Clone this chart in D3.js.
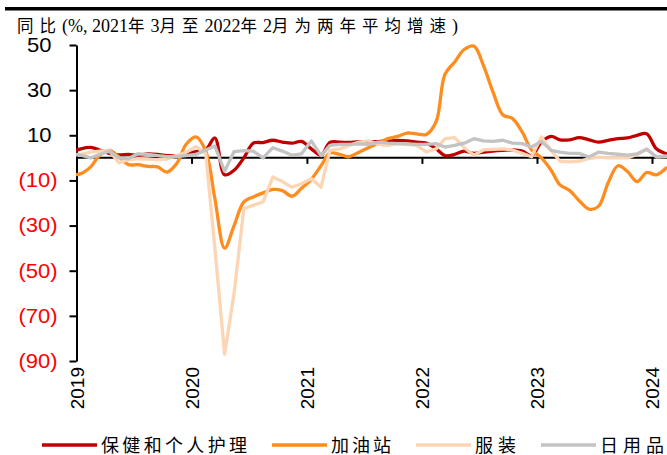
<!DOCTYPE html>
<meta charset="utf-8">
<style>
body { margin: 0; background: #fff; }
svg { display: block; }
.line { fill: none; stroke-width: 3.3; stroke-linejoin: round; stroke-linecap: round; }
</style>
<svg width="667" height="455"></svg>
<script src="https://d3js.org/d3.v7.min.js"></script>
<script>

// monthly points, Dec 2018 .. Feb 2024
var firstMonth = new Date(2018, 11, 1),
    endMonth = new Date(2024, 2, 1);

var seriesNames = ["保健和个人护理", "加油站", "服装", "日用品"];
var seriesColors = ["#C00000", "#FF8C1E", "#FCD5B4", "#C3C3C3"];

var health = [2.5, 4, 4.6, 3.5, 2, 1.3, 1.5, 1.2, 1.7, 1.5, 1, 0.8, 1.5,
  2.8, 3.5, 8.8, -7.5, -5.5, 0, 6.5, 6.8, 7.8, 7, 6.5, 7.3,
  4, 1.2, 6.8, 7, 6.8, 7.2, 7, 7.2, 7.5, 7.7, 7.5, 7,
  6.5, 4, 1, 1.5, 3, 2, 2.5, 3, 3.3, 3.5, 3, 1,
  7, 9.5, 8, 8, 9, 8, 7, 7.8, 8.5, 8.8, 10, 10.7,
  4, 1.8];

var gas = [-7.5, -7, -4, 1, 3.3, 0.5, -3, -3, -3.8, -4, -6.3, -2.5, 6,
  9.3, 3, -18, -40, -30, -19.5, -17.3, -15.5, -14, -14.5, -17, -13.5,
  -9.5, -3.5, 2.2, 1.5, 0.5, 2.5, 4.5, 6.5, 8.5, 9.5, 11, 10.6,
  10.4, 16, 37, 42.5, 48, 49.5, 41, 29, 19, 17.5, 11.5, 3.5,
  0, -5.5, -12, -14.5, -19, -22.7, -21.5, -11, -3.5, -6, -10.5, -6.5,
  -7.5, -4.5];

var clothing = [1.5, 1.5, 2.5, 3, 3.3, -2.2, -0.8, -0.3, -0.5, -0.8, -0.5, 1, 2.5,
  5, 2, -40, -87, -60, -22.5, -21, -19.5, -8.5, -10.5, -13, -11.5,
  -9.2, -13, 3.3, 4, 5.5, 7, 7.5, 6, 5.5, 6.3, 6, 5.5,
  2.6, 4, 8.5, 9, 4.5, 1.2, 3.5, 3.8, 4, 3.5, 2, 0.5,
  9.3, 3.3, -1.5, -1.8, -1.5, -0.3, 0.3, 0, 0, 0, 1.5, 4,
  0.5, 0.6];

var daily = [1.5, 1.2, 0, 1.5, 3, 0, -0.3, 1.8, 1.5, 1, 0.5, 0.5, 1,
  1.5, 3.5, 5.3, -6, 2.8, 3.2, 3, 0, 4.5, 3, 1.2, 1.8,
  7.5, 1, 5.5, 6, 6, 6.2, 6, 7, 6.5, 6.3, 6.2, 6,
  6, 6.3, 4.8, 5.5, 6.5, 8.5, 7.5, 7.3, 7.8, 6.5, 6.3, 4.8,
  7.3, 3.3, 2.5, 2, 2, 0.4, 2.5, 2, 1.6, 1.2, 1.8, 3.8,
  0.4, 0.8];

var yTicks = [50, 30, 10, -10, -30, -50, -70, -90];
// title split into CJK / latin runs
var titleParts = ["同比", "(%, 2021", "年", "3", "月至", "2022", "年", "2", "月为两年平均增速", ")"];
var legendWidths = [146, 60, 41, 64];

var months = d3.timeMonth.range(firstMonth, endMonth);
var allSeries = [health, gas, clothing, daily];

var svg = d3.select("svg");

var x = d3.scaleTime()
  .domain([new Date(2019, 0, 1), new Date(2024, 0, 1)])
  .range([76.5, 652]);

var y = d3.scaleLinear()
  .domain([-90, 50])
  .range([361, 45]);

function mid(d) { return d3.timeDay.offset(d, 14); }

// top rule + title
svg.append("rect")
  .attr("x", 5).attr("y", 7)
  .attr("width", 662).attr("height", 3.5)
  .attr("fill", "#000");

var title = svg.append("text")
  .attr("x", 17)
  .attr("y", 32)
  .attr("fill", "#000");

title.selectAll("tspan")
  .data(titleParts)
  .enter().append("tspan")
    .attr("font-family", function(d, i) {
      return i % 2 ? "'Liberation Serif', serif" : "'Noto Sans CJK SC', sans-serif";
    })
    .attr("font-size", function(d, i) { return i % 2 ? 18 : 16.5; })
    .attr("letter-spacing", function(d, i) { return i % 2 ? 0 : 6; })
    .text(function(d) { return d; });

// y axis
var yAxis = svg.append("g")
  .attr("transform", "translate(76.5,0)")
  .call(d3.axisLeft(y)
    .tickValues(yTicks)
    .tickSize(7)
    .tickSizeOuter(0)
    .tickFormat(function(d) { return d < 0 ? "(" + (-d) + ")" : d; }));

yAxis.select(".domain").attr("stroke", "#000").attr("stroke-width", 2);
yAxis.selectAll(".tick line").attr("stroke", "#000").attr("stroke-width", 2);
yAxis.selectAll(".tick text")
  .attr("font-family", "'Liberation Sans', Arial, sans-serif")
  .attr("font-size", 20)
  .attr("text-anchor", "end")
  .attr("transform", "scale(1.1,1)")
  .attr("x", function(d) { return (d < 0 ? -19 : -25) / 1.1; })
  .attr("fill", function(d) { return d < 0 ? "#FF0000" : "#000"; });

// zero line with year ticks
var xAxis = svg.append("g")
  .attr("transform", "translate(0," + y(0) + ")")
  .call(d3.axisBottom(x)
    .ticks(d3.timeYear.every(1))
    .tickSize(6)
    .tickSizeOuter(0)
    .tickFormat(""));

xAxis.select(".domain")
  .attr("d", "M76.5,0H667")
  .attr("stroke", "#000").attr("stroke-width", 2);
xAxis.selectAll(".tick line").attr("stroke", "#000").attr("stroke-width", 2);
xAxis.selectAll(".tick").filter(function(d) { return d.getFullYear() === 2019; }).remove();

// year labels below the plot
var xLabels = svg.append("g")
  .attr("transform", "translate(0,367)")
  .call(d3.axisBottom(x)
    .ticks(d3.timeYear.every(1))
    .tickSize(0)
    .tickFormat(d3.timeFormat("%Y")));

xLabels.select(".domain").remove();
xLabels.selectAll(".tick text")
  .attr("font-family", "'Liberation Sans', Arial, sans-serif")
  .attr("font-size", 19)
  .attr("fill", "#000")
  .attr("transform", "rotate(-90)")
  .attr("text-anchor", "end")
  .attr("x", 0)
  .attr("y", 0)
  .attr("dy", "0.36em");

// lines
svg.append("clipPath").attr("id", "plot")
  .append("rect")
  .attr("x", 76).attr("y", 0)
  .attr("width", 600).attr("height", 455);

var curves = [d3.curveCatmullRom, d3.curveCatmullRom, d3.curveLinear, d3.curveLinear];

var lines = svg.append("g").attr("clip-path", "url(#plot)");

allSeries.forEach(function(values, k) {
  var line = d3.line()
    .x(function(d, i) { return x(mid(months[i])); })
    .y(function(d) { return y(d); })
    .curve(curves[k]);

  lines.append("path")
    .datum(values)
    .attr("class", "line")
    .attr("stroke", seriesColors[k])
    .attr("d", line);
});

// legend
var legendX = [42, 272, 416, 541];

var legend = svg.append("g")
  .selectAll("g")
  .data(seriesNames)
  .enter().append("g")
    .attr("transform", function(d, i) { return "translate(" + legendX[i] + ",445)"; });

legend.append("line")
  .attr("x1", 0).attr("x2", 55)
  .attr("stroke", function(d, i) { return seriesColors[i]; })
  .attr("stroke-width", 3.5);

legend.append("text")
  .attr("x", 59)
  .attr("y", 7)
  .attr("font-family", "'Noto Sans CJK SC', sans-serif")
  .attr("font-size", 18)
  .attr("textLength", function(d, i) { return legendWidths[i]; })
  .attr("lengthAdjust", "spacing")
  .attr("fill", "#000")
  .text(function(d) { return d; });

</script>
